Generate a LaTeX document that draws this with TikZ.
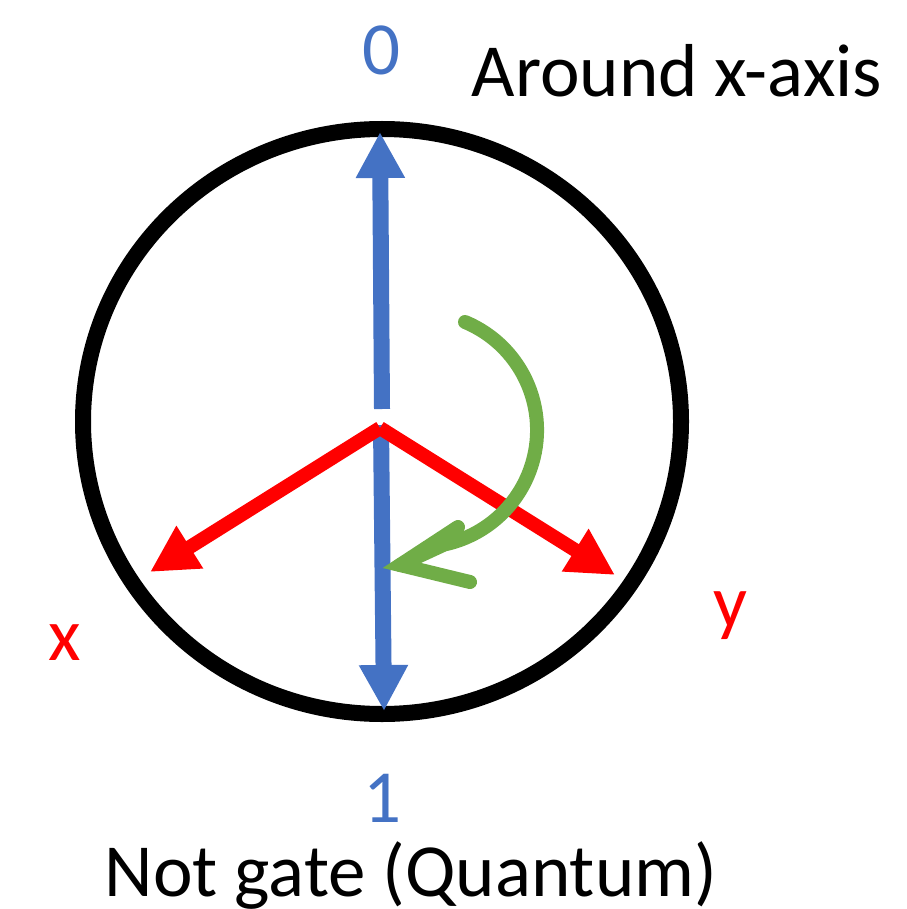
\documentclass[tikz,border=0pt]{standalone}
\usepackage{fontspec}
\setmainfont{Carlito}
\usetikzlibrary{arrows.meta}
\definecolor{qblue}{HTML}{4472C4}
\definecolor{qred}{HTML}{FF0000}
\definecolor{qgreen}{HTML}{70AD47}
\begin{document}
\begin{tikzpicture}[x=1pt,y=-1pt,
  lbl/.style={inner sep=0pt, anchor=base, font=\fontsize{75}{90}\selectfont},
  axisblue/.style={draw=qblue, line width=16pt, -{Triangle[length=46pt,width=46pt]}},
  axisred/.style={draw=qred, line width=14pt, -{Triangle[length=47pt,width=47pt]}},
  rot/.style={draw=qgreen, line width=14pt, line cap=round},
  sphere/.style={draw=black, line width=16pt},
]
\useasboundingbox (0,0) rectangle (906,909);
% Bloch circle
\draw[sphere] (382,421.5) ellipse[x radius=299, y radius=292.5];
% key points
\coordinate (upstart) at (382,409);
\coordinate (top) at (380,132);
\coordinate (downstart) at (381,425);
\coordinate (bot) at (384,711);
\coordinate (redc) at (380,428);
\coordinate (xtip) at (150,572);
\coordinate (ytip) at (615,575);
\coordinate (gstart) at (465,322);
\coordinate (gtip) at (400,565);
\coordinate (gbarb1) at (458,527);
\coordinate (gbarb2) at (470,582);
% blue axis
\draw[axisblue] (upstart) -- (top);
\draw[axisblue] (downstart) -- (bot);
% red axes
\draw[axisred] (redc) -- (xtip);
\draw[axisred] (redc) -- (ytip);
% green rotation arrow
\draw[rot] (gstart) arc[start angle=-67.4, end angle=78, radius=117] -- (gtip);
\draw[rot, line join=miter] (gbarb1) -- (gtip) -- (gbarb2);
% labels
\node[lbl, text=qblue] (zero) at (382,75) {0};
\node[lbl, text=qblue] (one) at (383,822) {1};
\node[lbl, text=qred] (xl) at (65,660) {x};
\node[lbl, text=qred] (yl) at (730,627) {y};
\node[lbl] (title) at (677,97) {Around x-axis};
\node[lbl] (caption) at (411,896) {Not gate (Quantum)};
\end{tikzpicture}
\end{document}
